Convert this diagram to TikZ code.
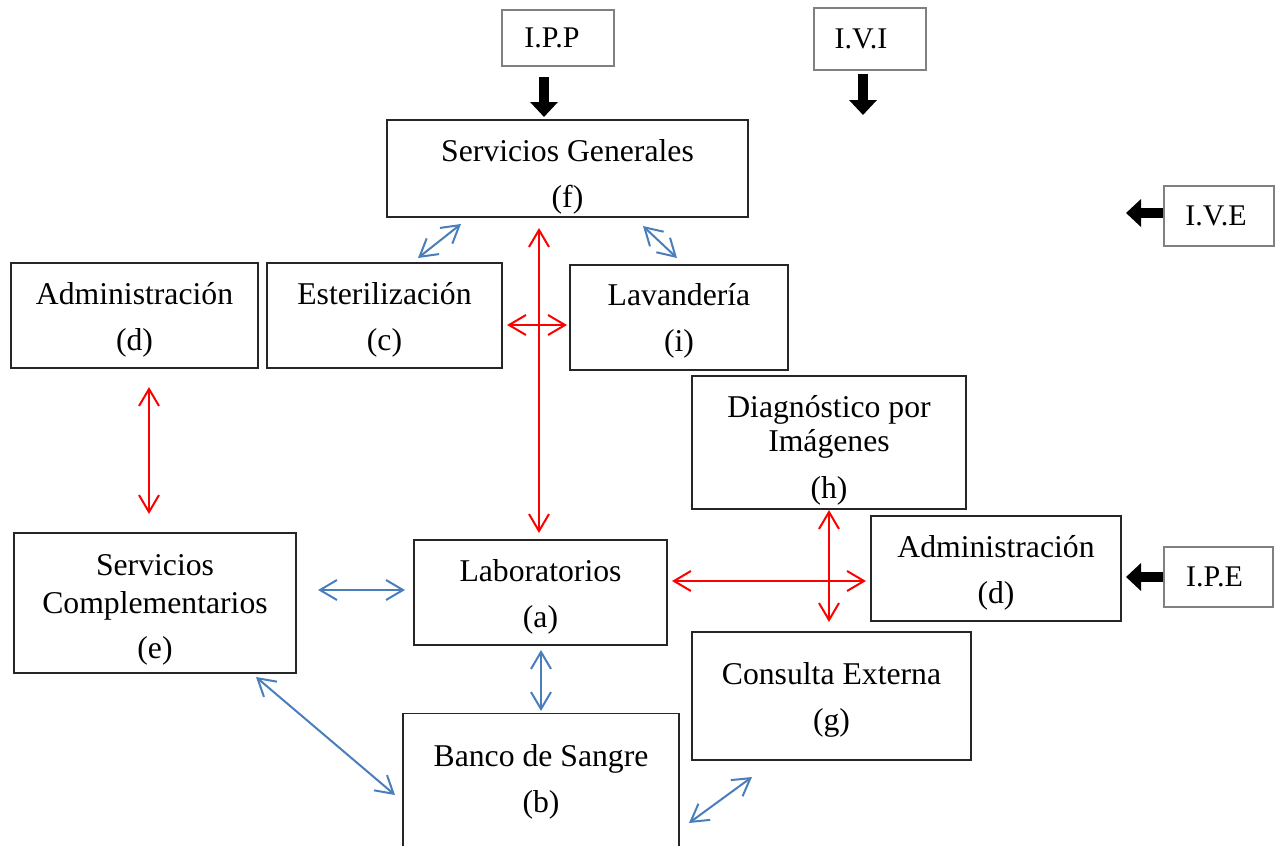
\documentclass[tikz,border=0pt]{standalone}
\usepackage{fontspec}
\setmainfont{Liberation Serif}
\usetikzlibrary{arrows.meta}
\definecolor{linkblue}{HTML}{4A7EBB}
\definecolor{tagline}{HTML}{808080}
% invisible strut that sets the height of a box's first text line
\newcommand{\toprule}[1]{\rule{0pt}{#1pt}}
\tikzset{
  box/.style={draw=black!85, line width=1.3pt, align=center, inner sep=0pt,
    font=\fontsize{31.7}{46}\selectfont},
  tagbox/.style={draw=tagline, line width=2pt, align=center, inner sep=0pt,
    font=\fontsize{30}{36}\selectfont},
  redlink/.style={draw=red, line width=2pt,
    {Straight Barb[length=17pt,width=20pt]}-{Straight Barb[length=17pt,width=20pt]}},
  bluelink/.style={draw=linkblue, line width=2pt,
    {Straight Barb[length=17pt,width=20pt]}-{Straight Barb[length=17pt,width=20pt]}},
  flow/.style={draw=black, line width=10pt, -{Triangle[length=15pt,width=27pt]}}
}
\begin{document}
\begin{tikzpicture}[x=1pt,y=-1pt]
\useasboundingbox (0,0) rectangle (1275,846);
\clip (0,0) rectangle (1275,846);

% input tags
\node[tagbox, minimum width=112, minimum height=56] (ipp) at (558,38) {I.P.P\hspace*{12pt}};
\node[tagbox, minimum width=112, minimum height=62] (ivi) at (870,39) {I.V.I\hspace*{18pt}};
\node[tagbox, minimum width=110, minimum height=60] (ive) at (1219,216) {I.V.E\hspace*{6pt}};
\node[tagbox, minimum width=109, minimum height=60] (ipe) at (1218.5,577) {I.P.E\hspace*{8pt}};

% service areas
\node[box, minimum width=361, minimum height=97] (f) at (567.5,168.5) {\toprule{38}Servicios Generales\\(f)};
\node[box, minimum width=247, minimum height=105] (d1) at (134.5,315.5) {\toprule{31}Administración\\(d)};
\node[box, minimum width=235, minimum height=105] (c) at (384.5,315.5) {\toprule{31}Esterilización\\(c)};
\node[box, minimum width=218, minimum height=105] (i) at (679,317.5) {\toprule{29}Lavandería\\(i)};
\node[box, minimum width=274, minimum height=133] (h) at (829,442.5) {\toprule{38}Diagnóstico por\\[-12pt]Imágenes\\[1pt](h)};
\node[box, minimum width=282, minimum height=140] (e) at (155,603) {\toprule{34}Servicios\\[-8pt]Complementarios\\[-1pt](e)};
\node[box, minimum width=253, minimum height=105] (a) at (540.5,592.5) {\toprule{30}Laboratorios\\(a)};
\node[box, minimum width=250, minimum height=105] (d2) at (996,568.5) {\toprule{30}Administración\\(d)};
\node[box, minimum width=279, minimum height=128] (g) at (831.5,696) {\toprule{29}Consulta Externa\\(g)};
\node[box, minimum width=276, minimum height=170, anchor=north] (b) at (541,713) {};
\node[box, draw=none] (btext) at (541,782) {Banco de Sangre\\(b)};

% connector end points
\coordinate (fa1) at (539,228);   \coordinate (fa2) at (539,533);
\coordinate (ci1) at (507,325);   \coordinate (ci2) at (567,325);
\coordinate (de1) at (149,387);   \coordinate (de2) at (149,514);
\coordinate (ad1) at (672,581);   \coordinate (ad2) at (866,581);
\coordinate (hg1) at (829,510);   \coordinate (hg2) at (829,622);
\coordinate (cf1) at (418,258);   \coordinate (cf2) at (461,224);
\coordinate (fi1) at (643,226);   \coordinate (fi2) at (677,258);
\coordinate (ea1) at (318,590);   \coordinate (ea2) at (405,590);
\coordinate (ab1) at (541,650);   \coordinate (ab2) at (541,711);
\coordinate (eb1) at (256,677);   \coordinate (eb2) at (395,795);
\coordinate (bg1) at (689,823);   \coordinate (bg2) at (752,777);
\coordinate (ipp1) at (544,77);   \coordinate (ipp2) at (544,117);
\coordinate (ivi1) at (863,74);   \coordinate (ivi2) at (863,115);
\coordinate (ive1) at (1163,213); \coordinate (ive2) at (1126,213);
\coordinate (ipe1) at (1163,577); \coordinate (ipe2) at (1126,577);

% red links
\draw[redlink] (fa1) -- (fa2);
\draw[redlink] (ci1) -- (ci2);
\draw[redlink] (de1) -- (de2);
\draw[redlink] (ad1) -- (ad2);
\draw[redlink] (hg1) -- (hg2);

% blue links
\draw[bluelink] (cf1) -- (cf2);
\draw[bluelink] (fi1) -- (fi2);
\draw[bluelink] (ea1) -- (ea2);
\draw[bluelink] (ab1) -- (ab2);
\draw[bluelink] (eb1) -- (eb2);
\draw[bluelink] (bg1) -- (bg2);

% inflow arrows
\draw[flow] (ipp1) -- (ipp2);
\draw[flow] (ivi1) -- (ivi2);
\draw[flow] (ive1) -- (ive2);
\draw[flow] (ipe1) -- (ipe2);
\end{tikzpicture}
\end{document}
